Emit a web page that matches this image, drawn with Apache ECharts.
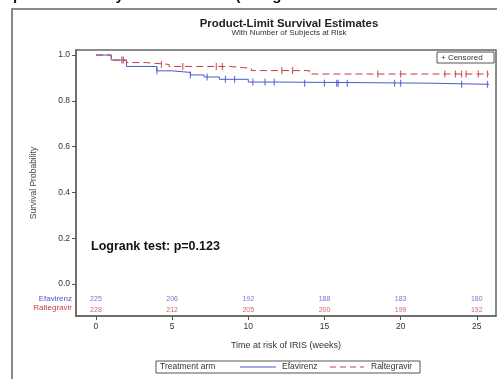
<!DOCTYPE html>
<html><head><meta charset="utf-8">
<script src="https://cdn.jsdelivr.net/npm/echarts@6/dist/echarts.min.js"></script>
<style>html,body{margin:0;padding:0;background:#fff}#c{width:497px;height:379px}</style>
</head><body><div id="c"></div>
<script>
// ---- data ----
const xTicks = [0, 5, 10, 15, 20, 25];
const yTicks = [0, 0.2, 0.4, 0.6, 0.8, 1.0];
const weeksE = [0, 1.0, 2.0, 4.0, 5.0, 6.2, 7.1, 8.1, 10.0, 12.0, 22.0, 25.8];
const survE  = [1.0, 0.978, 0.950, 0.931, 0.924, 0.913, 0.904, 0.894, 0.882, 0.877, 0.872, 0.872];
const weeksR = [0, 1.0, 2.0, 3.3, 4.8, 8.8, 10.2, 14.0, 25.8];
const survR  = [1.0, 0.978, 0.967, 0.959, 0.950, 0.942, 0.932, 0.917, 0.917];
const censorE = [4.0, 6.2, 7.3, 8.5, 9.1, 10.3, 11.1, 11.7, 13.7, 15.0, 15.8, 15.9, 16.5, 19.6, 20.0, 24.0, 25.7];
const censorR = [1.7, 1.8, 4.3, 5.7, 7.9, 8.3, 12.2, 12.9, 18.5, 20.0, 22.9, 23.6, 24.0, 24.3, 25.1, 25.7];
const riskTimes = [0, 5, 10, 15, 20, 25];
const riskE = [225, 206, 192, 188, 183, 180];
const riskR = [228, 212, 205, 200, 199, 192];

const BLUE = '#4a58cc', RED = '#c83c3c';
function stepAt(ws, ss, t){ let v = ss[0]; for (let i=0;i<ws.length;i++){ if (ws[i] <= t) v = ss[i]; } return v; }
const lineE = weeksE.map((w,i)=>[w, survE[i]]);
const lineR = weeksR.map((w,i)=>[w, survR[i]]);
const cE = censorE.map(t=>[t, stepAt(weeksE, survE, t)]);
const cR = censorR.map(t=>[t, stepAt(weeksR, survR, t)]);
const rowE = riskTimes.map((t,i)=>[t, -0.068, riskE[i]]);
const rowR = riskTimes.map((t,i)=>[t, -0.112, riskR[i]]);

const chart = echarts.init(document.getElementById('c'));
const FONT = 'Liberation Sans, Arial, sans-serif';
chart.setOption({
  animation: false,
  textStyle: { fontFamily: FONT },
  grid: { left: 76, top: 50, width: 420, height: 266, show: true, borderColor: '#666', borderWidth: 1.5 },
  xAxis: {
    type: 'value', min: -1.31, max: 26.26,
    name: 'Time at risk of IRIS (weeks)', nameLocation: 'middle', nameGap: 25,
    nameTextStyle: { fontSize: 9, color: '#333', fontFamily: FONT },
    axisLine: { show: true, onZero: false, lineStyle: { color: '#666', width: 1.5 } },
    axisTick: { show: true, customValues: xTicks, length: 4, lineStyle: { color: '#555' } },
    axisLabel: { customValues: xTicks, fontSize: 8.5, color: '#333', margin: 6 },
    splitLine: { show: false }
  },
  yAxis: {
    type: 'value', min: -0.14, max: 1.022,
    name: 'Survival Probability', nameLocation: 'middle', nameGap: 38, nameRotate: 90,
    nameTextStyle: { fontSize: 8.5, color: '#444', fontFamily: FONT },
    axisLine: { show: true, onZero: false, lineStyle: { color: '#666', width: 1.5 } },
    axisTick: { show: true, customValues: yTicks, length: 4, lineStyle: { color: '#555' } },
    axisLabel: { customValues: yTicks, fontSize: 8.5, color: '#333', margin: 6, formatter: v => v.toFixed(1) },
    splitLine: { show: false }
  },
  series: [
    { name: 'Efavirenz', type: 'line', step: 'end', data: lineE, showSymbol: false, symbol: 'none',
      lineStyle: { color: BLUE, width: 1 }, itemStyle: { color: BLUE }, z: 3 },
    { name: 'Raltegravir', type: 'line', step: 'end', data: lineR, showSymbol: false, symbol: 'none',
      lineStyle: { color: RED, width: 1, type: [7, 4] }, itemStyle: { color: RED }, z: 4 },
    { name: 'cE', type: 'scatter', data: cE, symbol: 'rect', symbolSize: [1.2, 7], itemStyle: { color: BLUE }, z: 5 },
    { name: 'cR', type: 'scatter', data: cR, symbol: 'rect', symbolSize: [1.2, 7], itemStyle: { color: RED }, z: 5 },
    { name: 'riskE', type: 'scatter', data: rowE, symbolSize: 0, silent: true,
      label: { show: true, position: 'inside', formatter: p => p.data[2], fontSize: 7, color: BLUE } },
    { name: 'riskR', type: 'scatter', data: rowR, symbolSize: 0, silent: true,
      label: { show: true, position: 'inside', formatter: p => p.data[2], fontSize: 7, color: RED } }
  ],
  graphic: [
    { type: 'rect', shape: { x: 12, y: 9, width: 520, height: 400 }, style: { fill: 'none', stroke: '#8a8a8a', lineWidth: 2 }, silent: true },
    { type: 'text', left: 13, top: -12, style: { text: 'probabilities by ART treatment (raltegravir arm versus efavirenz arm)', font: 'bold 15px ' + FONT, fill: '#111' } },
    { type: 'text', x: 289, y: 24, style: { text: 'Product-Limit Survival Estimates', font: 'bold 11.4px ' + FONT, fill: '#222', textAlign: 'center', textVerticalAlign: 'middle' } },
    { type: 'text', x: 289, y: 33, style: { text: 'With Number of Subjects at Risk', font: '8px ' + FONT, fill: '#333', textAlign: 'center', textVerticalAlign: 'middle' } },
    { type: 'text', x: 91, y: 247, style: { text: 'Logrank test: p=0.123', font: 'bold 12.5px ' + FONT, fill: '#111', textVerticalAlign: 'middle' } },
    { type: 'rect', shape: { x: 437, y: 52, width: 57, height: 11 }, style: { fill: '#fff', stroke: '#555', lineWidth: 1 } },
    { type: 'text', x: 441, y: 57.5, style: { text: '+ Censored', font: '8px ' + FONT, fill: '#333', textVerticalAlign: 'middle' } },
    { type: 'text', x: 72, y: 299, style: { text: 'Efavirenz', font: '8px ' + FONT, fill: BLUE, textAlign: 'right', textVerticalAlign: 'middle' } },
    { type: 'text', x: 72, y: 308, style: { text: 'Raltegravir', font: '8px ' + FONT, fill: RED, textAlign: 'right', textVerticalAlign: 'middle' } },
    { type: 'rect', shape: { x: 156, y: 361, width: 264, height: 12 }, style: { fill: 'none', stroke: '#555', lineWidth: 1 } },
    { type: 'text', x: 160, y: 367, style: { text: 'Treatment arm', font: '8.5px ' + FONT, fill: '#333', textVerticalAlign: 'middle' } },
    { type: 'line', shape: { x1: 240, y1: 367, x2: 276, y2: 367 }, style: { stroke: BLUE, lineWidth: 1 } },
    { type: 'text', x: 282, y: 367, style: { text: 'Efavirenz', font: '8.5px ' + FONT, fill: '#333', textVerticalAlign: 'middle' } },
    { type: 'line', shape: { x1: 330, y1: 367, x2: 364, y2: 367 }, style: { stroke: RED, lineWidth: 1, lineDash: [6, 4] } },
    { type: 'text', x: 371, y: 367, style: { text: 'Raltegravir', font: '8.5px ' + FONT, fill: '#333', textVerticalAlign: 'middle' } }
  ]
});
</script></body></html>
